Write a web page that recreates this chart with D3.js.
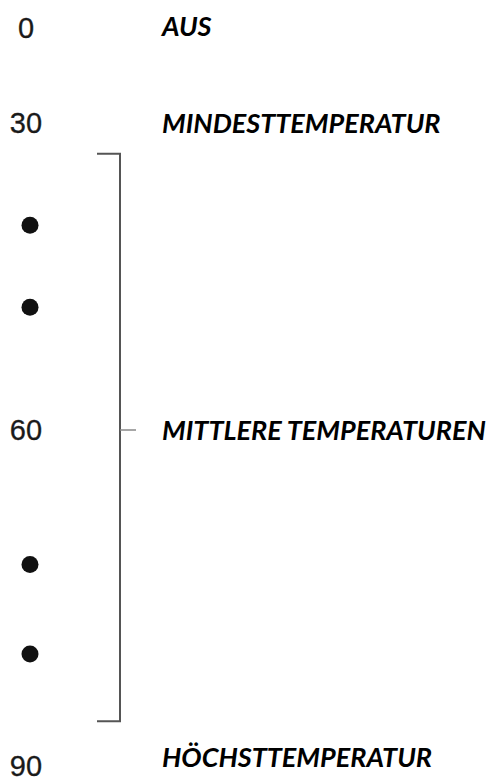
<!DOCTYPE html>
<html>
<head>
<meta charset="utf-8">
<script src="https://cdn.jsdelivr.net/npm/d3@7"></script>
<style>
  html, body { margin: 0; padding: 0; background: #fff; }
  svg { display: block; }
</style>
</head>
<body>
<div id="chart"></div>
<script>
// Dial settings, top to bottom
const tickValues = [0, 30, 60, 90]
const tickLabels = ['0', '30', '60', '90']
const settingNames = ['AUS', 'MINDESTTEMPERATUR', 'MITTLERE TEMPERATUREN', 'HÖCHSTTEMPERATUR']
const dotValues = [40, 48, 72, 80]
const bracketRange = [33, 86]
const bracketMid = 60

const width = 493
const height = 783

const svg = d3.select('#chart')
  .append('svg')
  .attr('width', width)
  .attr('height', height)

// The printed dial is not evenly spaced, so map piecewise
const y = d3.scaleLinear()
  .domain(tickValues)
  .range([28, 123, 430, 766])

const numX = 26
const bracketX = 120
const labelX = 162

// Numbers on the left
svg.append('g')
  .selectAll('text')
  .data(tickValues)
  .join('text')
  .attr('x', numX)
  .attr('y', d => y(d))
  .attr('dy', '0.36em')
  .attr('text-anchor', 'middle')
  .attr('font-family', '"Liberation Sans", Arial, sans-serif')
  .attr('font-size', 29)
  .attr('fill', '#1a1a1a')
  .attr('stroke', '#1a1a1a')
  .attr('stroke-width', 0.3)
  .text((d, i) => tickLabels[i])

// Intermediate dots
svg.append('g')
  .selectAll('circle')
  .data(dotValues)
  .join('circle')
  .attr('cx', 30)
  .attr('cy', d => y(d))
  .attr('r', 8.5)
  .attr('fill', '#111')

// Bracket for the middle range
const [b0, b1] = bracketRange.map(y)
svg.append('path')
  .attr('d', `M${bracketX - 23},${b0}H${bracketX}V${b1}H${bracketX - 23}`)
  .attr('fill', 'none')
  .attr('stroke', '#555')
  .attr('stroke-width', 2)

svg.append('line')
  .attr('x1', bracketX).attr('x2', bracketX + 16)
  .attr('y1', y(bracketMid)).attr('y2', y(bracketMid))
  .attr('stroke', '#888')
  .attr('stroke-width', 1.5)

// Setting names
const labelOffsets = [-2, 0, 0, -9]
svg.append('g')
  .selectAll('text')
  .data(tickValues)
  .join('text')
  .attr('x', labelX)
  .attr('y', (d, i) => y(d) + labelOffsets[i])
  .attr('dy', '0.36em')
  .attr('font-family', 'Lato, "Open Sans", sans-serif')
  .attr('font-weight', 'bold')
  .attr('font-style', 'italic')
  .attr('font-size', 27)
  .attr('fill', '#000')
  .text((d, i) => settingNames[i])
</script>
</body>
</html>
